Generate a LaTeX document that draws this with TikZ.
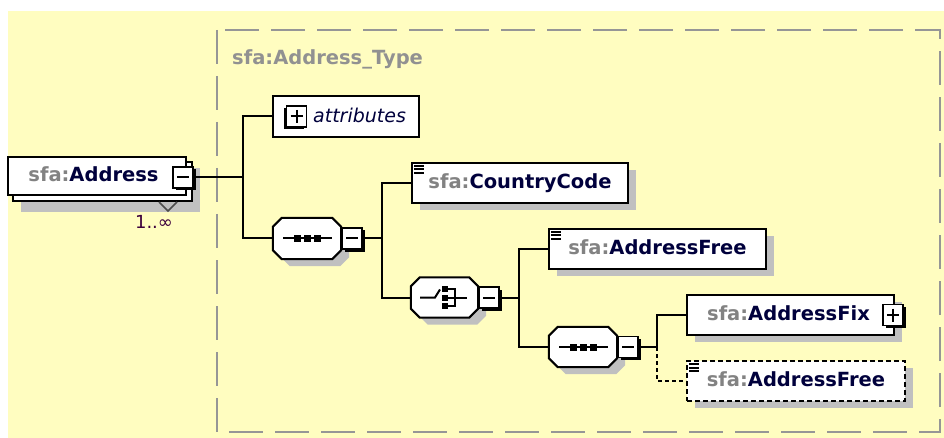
\documentclass[tikz,border=0pt]{standalone}
\usepackage{fontspec}
\setmainfont{DejaVu Sans}
\usetikzlibrary{calc,shadows}
\definecolor{bgyellow}{RGB}{255,253,192}
\definecolor{shgray}{RGB}{192,192,192}
\definecolor{framegray}{RGB}{150,150,150}
\definecolor{titlegray}{RGB}{145,145,145}
\definecolor{prefgray}{RGB}{130,130,130}
\definecolor{namecol}{RGB}{0,0,60}
\definecolor{multcol}{RGB}{60,0,60}
\newcommand\ename[1]{\textcolor{prefgray}{sfa:}\textcolor{namecol}{#1}}
\newcommand\octa[4]{%
  \path[#4] ($(#1.north west)+(9+#2,#3)$) -- ($(#1.north east)+(-9+#2,#3)$)
   -- ($(#1.north east)+(#2,9+#3)$) -- ($(#1.south east)+(#2,-9+#3)$)
   -- ($(#1.south east)+(-9+#2,#3)$) -- ($(#1.south west)+(9+#2,#3)$)
   -- ($(#1.south west)+(#2,-9+#3)$) -- ($(#1.north west)+(#2,9+#3)$) -- cycle;}
\newcommand\listicon[1]{%
  \foreach \k in {4,7.5,11} \draw[line width=2pt] ([xshift=3pt,yshift=-\k pt]#1.north west) -- ++(10,0);}
\newcommand\seqicon[1]{%
  \draw[line width=2pt] ($(#1)+(-24,0)$) -- ($(#1)+(25,0)$);
  \foreach \d in {-10,0,10} \fill ($(#1)+(\d-3.5,-3.5)$) rectangle ($(#1)+(\d+3.5,3.5)$);}
\tikzset{
  conn/.style={draw=black, line width=2pt},
  elem/.style={draw=black, fill=white, line width=2pt, inner sep=0pt,
    minimum height=40pt, text height=14pt, text depth=3pt,
    font=\fontsize{19.5}{23}\selectfont\bfseries},
  shad/.style={general shadow={shadow xshift=8pt, shadow yshift=-7pt, fill=shgray}},
  compo/.style={draw=none, inner sep=0pt, minimum width=68pt, minimum height=41pt},
  btn/.style={draw=black, fill=white, line width=1.6pt, minimum width=20pt,
    minimum height=21pt, inner sep=0pt,
    general shadow={shadow xshift=2.5pt, shadow yshift=-2.5pt, fill=black}},
  btnminus/.style={path picture={\draw[line width=2pt]
    ([xshift=4pt]path picture bounding box.west) -- ([xshift=-4pt]path picture bounding box.east);}},
  btnplus/.style={path picture={\draw[line width=2pt]
    ([xshift=4pt]path picture bounding box.west) -- ([xshift=-4pt]path picture bounding box.east)
    ([yshift=-4pt]path picture bounding box.north) -- ([yshift=4pt]path picture bounding box.south);}}
}
\begin{document}
\begin{tikzpicture}[x=1pt,y=-1pt]
\useasboundingbox (0,0) rectangle (944,438);
\fill[white] (0,0) rectangle (944,438);
\fill[bgyellow] (8,11) rectangle (944,438);
% frame
\draw[framegray, line width=2pt, dash pattern=on 34pt off 12pt] (217,30) rectangle (940,432);
\node[anchor=base west, inner sep=0pt, text=titlegray, font=\fontsize{19.5}{23}\selectfont\bfseries] (title) at (232,65) {sfa:Address\_Type};
% Address element
\fill[shgray] (21,168) rectangle (200,212);
\filldraw[fill=white, draw=black, line width=2pt] (13,162) rectangle (192,201);
\node[elem, minimum width=178pt, minimum height=38pt] (addr) at (97,176) {\ename{Address}\hspace*{7pt}};
\draw[black!70, line width=1.5pt] (159,202) -- (168,211) -- (177,202);
\node[btn, btnminus] (amin) at (183,177.5) {};
\node[anchor=base, inner sep=0pt, text=multcol, font=\fontsize{18}{20}\selectfont] (mult) at (154,229) {1..∞};
% attributes
\node[draw=black, fill=white, line width=2pt, minimum width=146pt, minimum height=41pt, inner sep=0pt] (attr) at (346,116.5) {};
\node[draw=black, fill=white, line width=1.6pt, minimum width=20pt, minimum height=21pt, inner sep=0pt,
  general shadow={shadow xshift=-2.5pt, shadow yshift=-2.5pt, fill=black}, btnplus] (aplus) at (296.5,116.5) {};
\node[anchor=base west, inner sep=0pt, font=\fontsize{19}{22}\selectfont\itshape, text=namecol] (attrtxt) at (313,123) {attributes};
% elements
\node[elem, shad, minimum width=216pt] (cc) at (520,183) {\ename{CountryCode}};
\listicon{cc}
\node[elem, shad, minimum width=217pt] (af1) at (657.5,249) {\ename{AddressFree}};
\listicon{af1}
\node[elem, shad, minimum width=207pt] (afix) at (790.5,315) {\ename{AddressFix}\hspace*{4pt}};
\node[btn, btnplus] (fplus) at (893,315) {};
\node[elem, shad, minimum width=218pt, dash pattern=on 5pt off 3pt] (af2) at (796,381) {\ename{AddressFree}};
\listicon{af2}
% compositors
\node[compo] (seq1) at (307,238.5) {};
\node[compo, minimum width=67pt, minimum height=40pt] (choice) at (444.5,297.5) {};
\node[compo, minimum height=40pt] (seq2) at (583,347) {};
\octa{seq1}{8}{7}{fill=shgray}
\octa{seq1}{0}{0}{fill=white, draw=black, line width=2pt}
\seqicon{seq1}
\octa{choice}{8}{7}{fill=shgray}
\octa{choice}{0}{0}{fill=white, draw=black, line width=2pt}
\draw[line width=2pt] ($(choice)+(-24.5,0)$) -- ($(choice)+(-9.5,0)$) -- ($(choice)+(-4.5,-8)$);
\foreach \d in {-8.5,0,8.5} \fill ($(choice)+(-3,\d-3)$) rectangle ($(choice)+(3,\d+3)$);
\draw[line width=2pt] ($(choice)+(2.5,-8.5)$) -| ($(choice)+(10.5,8.5)$) -- ($(choice)+(2.5,8.5)$);
\draw[line width=2pt] ($(choice)+(2.5,0)$) -- ($(choice)+(22.5,0)$);
\octa{seq2}{8}{7}{fill=shgray}
\octa{seq2}{0}{0}{fill=white, draw=black, line width=2pt}
\seqicon{seq2}
\node[btn, btnminus, anchor=west] (m1) at (seq1.east) {};
\node[btn, btnminus, anchor=west] (m2) at (choice.east) {};
\node[btn, btnminus, anchor=west] (m3) at (seq2.east) {};
% junctions
\coordinate (j1) at (243,177.5);
\coordinate (j2) at (382,238.5);
\coordinate (j3) at (519,297.5);
\coordinate (j4) at (657,347);
% connectors
\draw[conn] (amin.east) -- (amin.east -| j1);
\draw[conn] (attr.west) -| (j1) |- (seq1.west);
\draw[conn] (m1.east) -- (m1.east -| j2);
\draw[conn] (cc.west) -| (j2) |- (choice.west);
\draw[conn] (m2.east) -- (m2.east -| j3);
\draw[conn] (af1.west) -| (j3) |- (seq2.west);
\draw[conn] (m3.east) -- (m3.east -| j4);
\draw[conn] (afix.west) -| (j4);
\draw[conn, dash pattern=on 4pt off 3pt] (j4) |- (af2.west);
\end{tikzpicture}
\end{document}
